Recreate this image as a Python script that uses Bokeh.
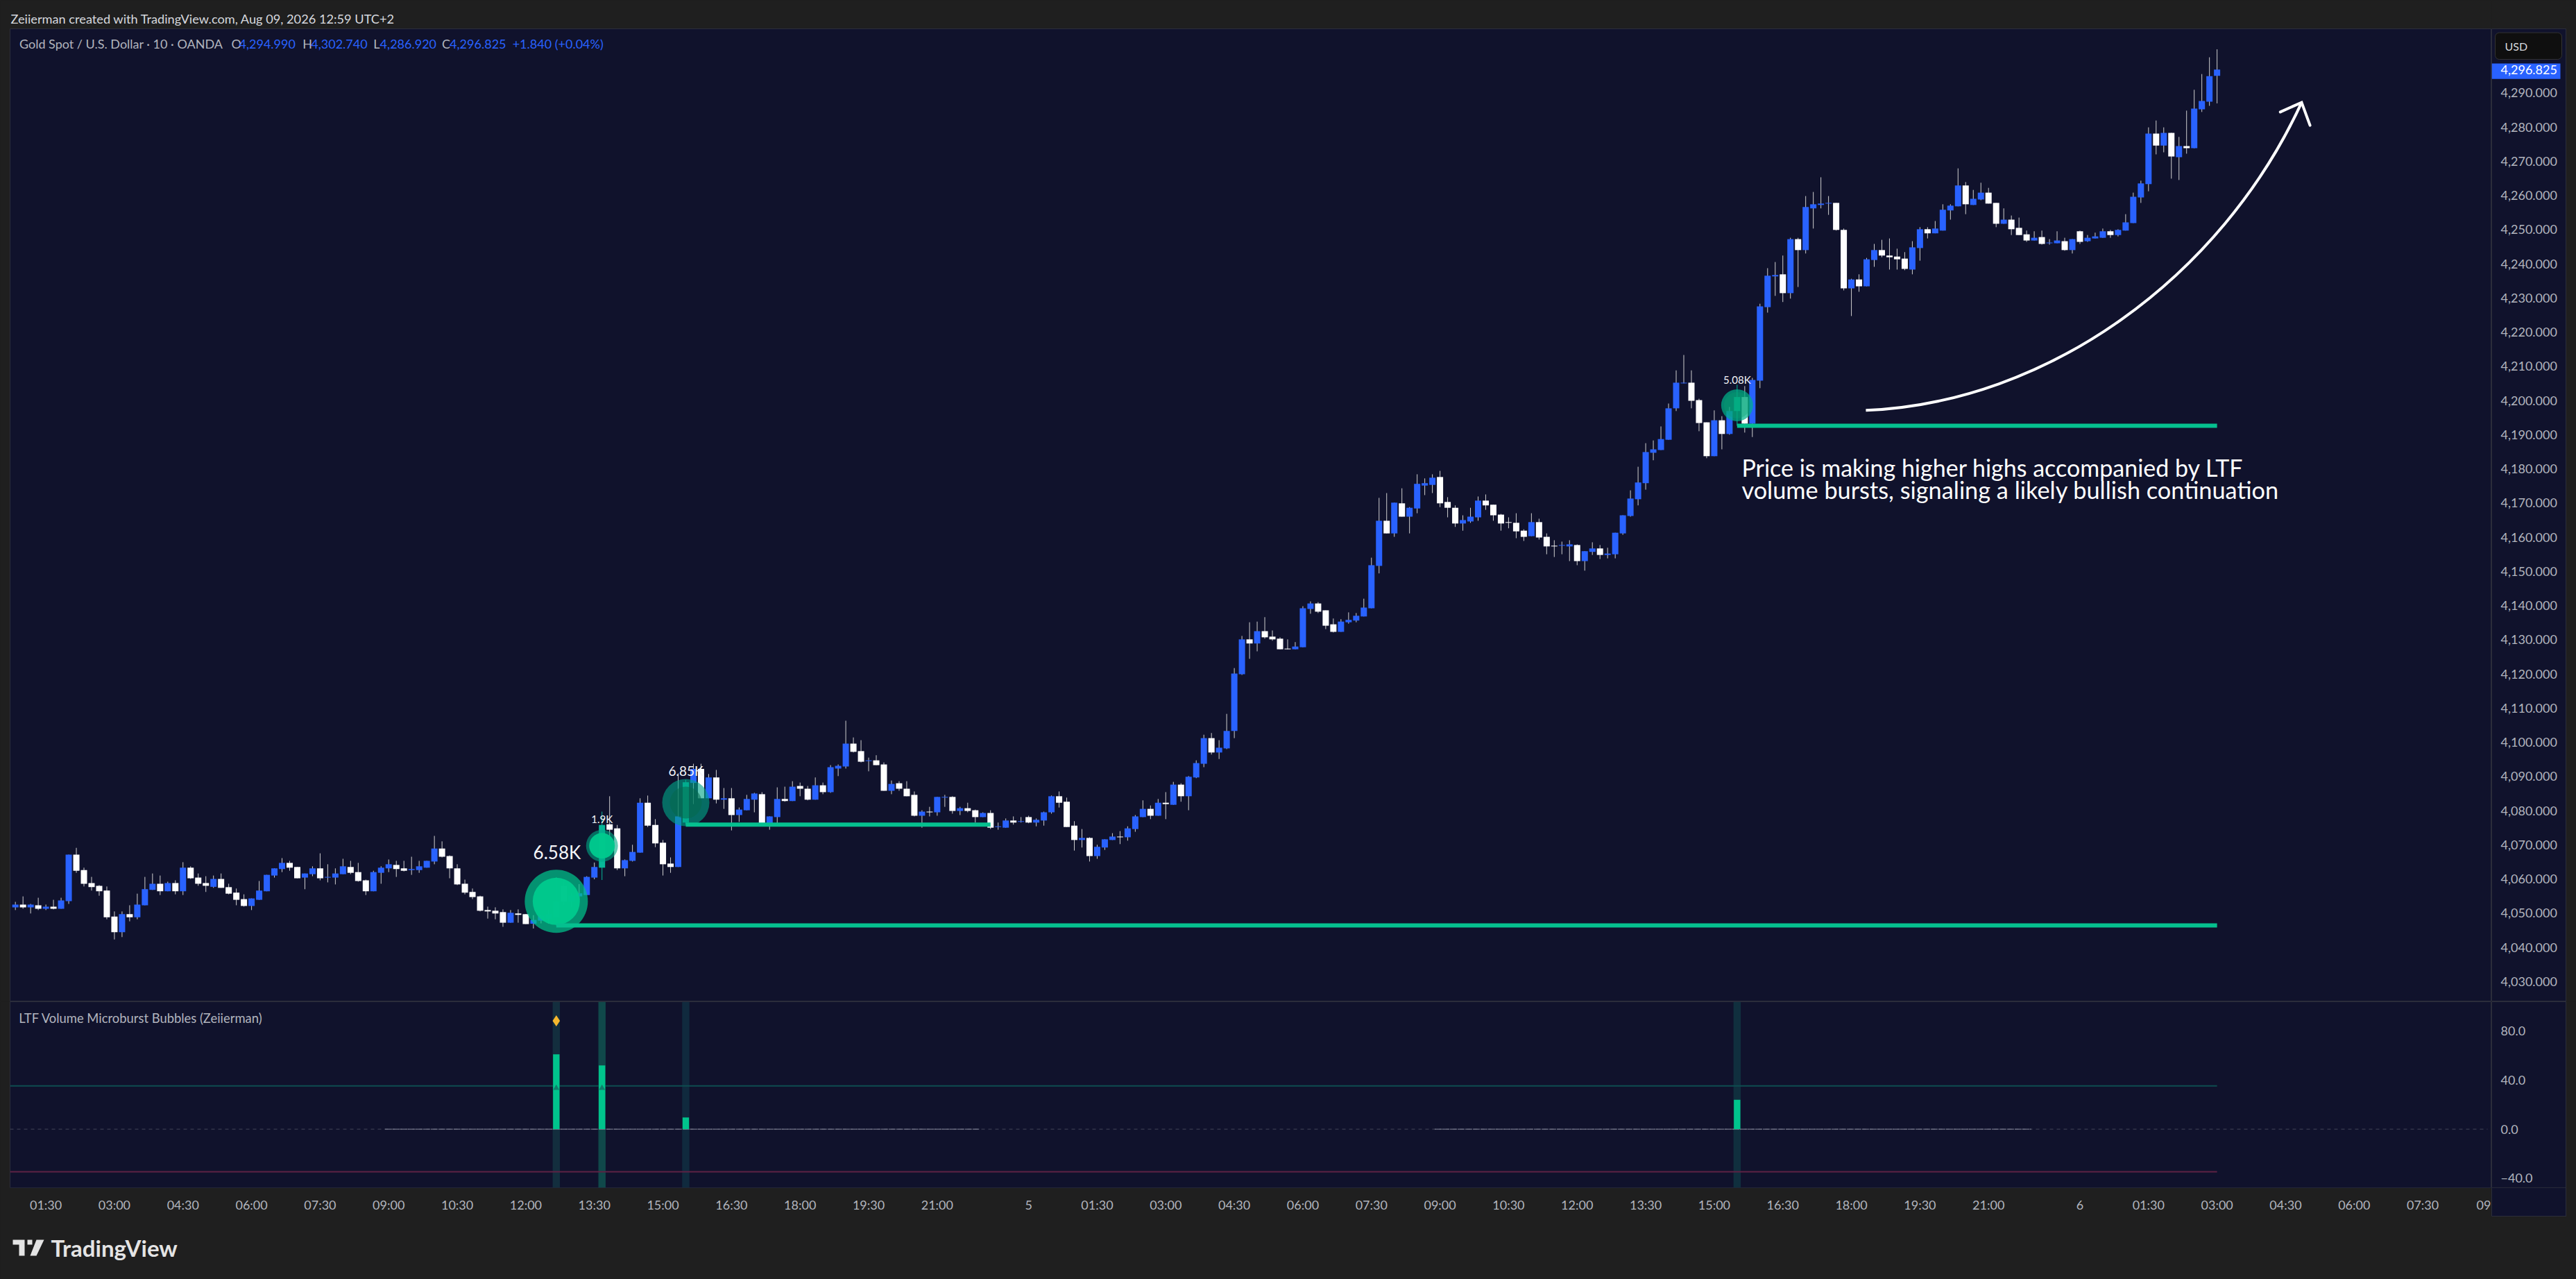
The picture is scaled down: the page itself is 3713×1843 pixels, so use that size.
from bokeh.plotting import figure
from bokeh.layouts import column, row
from bokeh.models import (Range1d, FixedTicker, NumeralTickFormatter, BoxAnnotation, Label,
                          ColumnDataSource, Title)
from bokeh.core.properties import value
from bokeh.embed import file_html
from bokeh.resources import INLINE

opens = [
4051.7,4052.5,4051.7,4052.3,4051.3,4051.9,4051.3,4053.5,4067.1,4062.6,
4058.8,4058.0,4056.6,4049.0,4044.4,4049.7,4048.8,4052.3,4056.8,4058.6,
4056.4,4058.8,4056.4,4063.3,4060.4,4058.8,4057.7,4060.0,4057.6,4056.0,
4054.1,4052.1,4053.9,4056.4,4061.0,4062.9,4064.7,4063.5,4060.4,4061.4,
4063.1,4060.4,4060.4,4061.4,4063.5,4062.0,4059.6,4056.4,4061.8,4063.1,
4064.1,4063.1,4062.6,4062.6,4063.3,4065.1,4068.9,4066.7,4063.1,4058.6,
4056.2,4054.9,4050.9,4050.7,4050.3,4047.2,4049.9,4049.7,4046.9,4047.8,
4048.4,4048.7,4058.0,4053.4,4054.9,4055.3,4060.4,4063.3,4076.0,4074.8,
4063.1,4065.3,4067.7,4082.3,4075.8,4070.6,4064.5,4063.5,4076.5,4088.1,
4092.2,4083.6,4089.7,4083.2,4083.6,4078.7,4080.1,4083.2,4084.8,4076.3,
4078.1,4083.4,4082.8,4087.2,4086.4,4083.2,4087.4,4085.4,4092.3,4092.9,
4099.6,4097.4,4094.5,4094.7,4093.5,4085.8,4088.0,4086.4,4084.6,4078.5,
4079.7,4079.5,4083.8,4084.0,4079.9,4080.7,4080.1,4078.1,4079.3,4075.2,
4075.0,4077.1,4076.7,4078.1,4076.5,4077.1,4079.5,4084.2,4082.6,4075.6,
4071.4,4072.0,4066.7,4069.2,4071.4,4072.4,4072.2,4074.6,4078.1,4080.5,
4078.5,4082.3,4081.7,4087.6,4084.2,4089.7,4093.7,4101.2,4097.0,4098.2,
4103.3,4119.9,4130.1,4128.9,4132.5,4130.9,4130.3,4127.4,4127.2,4127.8,
4139.0,4140.6,4138.6,4134.5,4132.3,4135.1,4135.6,4136.8,4139.2,4151.6,
4164.8,4161.1,4169.9,4166.0,4168.4,4175.1,4175.3,4177.6,4170.3,4168.6,
4164.0,4164.6,4165.8,4170.7,4169.5,4166.6,4164.4,4164.2,4161.9,4160.3,
4164.4,4160.1,4157.5,4157.5,4157.3,4157.7,4153.0,4155.7,4156.7,4154.8,
4155.0,4161.1,4166.2,4171.1,4175.8,4184.7,4185.5,4188.5,4197.7,4205.0,
4205.2,4200.1,4193.6,4183.7,4194.2,4190.2,4196.9,4201.0,4193.2,4205.8,
4227.3,4236.3,4236.9,4231.4,4247.2,4244.0,4256.2,4257.2,4257.6,4257.8,
4249.9,4232.8,4235.4,4233.4,4241.1,4244.0,4242.4,4242.1,4241.5,4238.3,
4244.6,4250.1,4248.9,4249.7,4255.6,4256.8,4262.9,4257.2,4258.8,4260.8,
4257.8,4251.7,4252.9,4250.5,4248.6,4246.8,4247.8,4246.0,4246.0,4246.6,
4244.0,4249.5,4246.6,4247.4,4247.6,4249.5,4248.4,4249.7,4251.9,4259.4,
4263.3,4278.1,4274.6,4278.3,4271.2,4274.4,4273.8,4285.2,4287.4,4294.99]

closes = [
4052.5,4051.7,4052.5,4051.3,4051.9,4051.3,4053.7,4067.1,4062.4,4058.6,
4057.6,4056.4,4048.8,4044.4,4049.7,4048.8,4052.5,4057.0,4058.6,4056.4,
4058.8,4056.4,4063.3,4060.2,4058.6,4058.0,4060.0,4057.4,4055.7,4053.9,
4052.1,4054.3,4056.6,4061.2,4063.1,4064.7,4063.3,4060.2,4061.6,4063.1,
4060.2,4060.6,4061.6,4063.7,4061.8,4059.4,4056.4,4062.0,4063.3,4064.3,
4062.9,4062.4,4062.9,4063.7,4065.3,4068.9,4066.5,4063.1,4058.4,4056.0,
4054.7,4050.7,4050.5,4049.9,4047.2,4050.1,4049.5,4046.8,4048.0,4049.2,
4049.7,4053.4,4053.4,4055.1,4055.8,4060.6,4063.5,4075.8,4074.4,4063.1,
4065.5,4067.9,4082.3,4075.6,4070.4,4064.3,4063.5,4078.3,4088.3,4092.2,
4083.6,4089.7,4083.2,4083.6,4078.7,4080.3,4083.4,4085.0,4076.3,4078.3,
4083.4,4082.8,4087.0,4086.4,4083.2,4087.4,4085.4,4092.7,4093.1,4099.6,
4097.2,4094.3,4094.7,4093.3,4085.8,4087.8,4086.4,4084.2,4078.5,4079.7,
4079.5,4084.0,4084.0,4079.9,4080.7,4079.9,4078.1,4079.3,4075.0,4075.4,
4077.1,4076.5,4076.9,4076.5,4077.3,4079.5,4084.2,4082.3,4075.2,4071.4,
4072.0,4066.7,4069.4,4071.6,4072.4,4072.2,4074.8,4078.3,4080.5,4078.5,
4082.3,4081.9,4087.6,4084.2,4089.9,4093.9,4101.2,4097.0,4098.4,4103.3,
4120.1,4130.1,4128.9,4132.5,4130.7,4130.1,4127.2,4127.2,4128.0,4139.2,
4140.6,4138.2,4134.1,4132.3,4135.3,4135.8,4137.0,4139.4,4151.8,4164.8,
4161.1,4170.1,4166.0,4168.6,4175.6,4175.8,4177.4,4169.9,4168.6,4164.0,
4165.0,4166.0,4170.7,4169.3,4166.4,4164.0,4164.2,4161.7,4160.1,4164.4,
4159.9,4157.3,4157.3,4157.7,4157.9,4153.0,4155.9,4156.7,4154.8,4155.2,
4161.3,4166.4,4171.3,4176.0,4184.9,4185.7,4188.7,4197.7,4205.2,4205.2,
4199.9,4193.4,4183.7,4194.2,4190.2,4196.9,4201.0,4193.2,4206.0,4227.5,
4236.5,4236.7,4231.4,4247.2,4244.0,4256.6,4257.4,4257.6,4257.8,4249.9,
4232.8,4235.4,4233.4,4241.3,4244.0,4242.4,4241.9,4241.3,4238.5,4244.8,
4250.1,4248.9,4250.3,4255.8,4257.0,4262.9,4257.4,4259.0,4260.8,4257.6,
4251.7,4252.9,4250.1,4248.4,4246.8,4247.6,4245.8,4246.2,4246.8,4244.0,
4247.2,4246.4,4247.6,4248.0,4249.5,4248.4,4249.9,4252.1,4259.6,4263.5,
4278.1,4274.6,4278.3,4271.4,4274.4,4273.8,4285.4,4287.6,4294.9,4296.825]

highs = [
4053.3,4054.9,4052.7,4054.5,4052.5,4053.9,4054.5,4067.1,4069.1,4063.3,
4060.6,4058.2,4057.8,4050.5,4050.5,4052.3,4055.7,4060.6,4061.6,4061.0,
4059.2,4059.6,4064.9,4063.7,4061.6,4060.8,4061.0,4061.6,4058.6,4057.2,
4055.5,4054.3,4059.4,4061.2,4063.1,4066.1,4065.3,4063.5,4061.6,4063.7,
4067.5,4064.3,4063.1,4065.9,4065.3,4064.7,4059.8,4062.4,4063.7,4065.7,
4065.3,4065.3,4066.5,4065.3,4065.3,4072.6,4071.0,4066.9,4064.3,4059.8,
4057.2,4055.1,4051.9,4051.7,4051.1,4050.9,4051.1,4049.7,4049.4,4049.4,
4051.1,4060.5,4059.2,4055.8,4058.5,4060.8,4064.8,4079.7,4084.2,4075.8,
4065.7,4070.0,4083.6,4084.4,4077.5,4071.4,4066.3,4090.9,4089.0,4093.7,
4093.7,4090.7,4091.9,4086.6,4086.6,4080.9,4084.6,4085.2,4085.4,4078.3,
4086.8,4087.0,4088.6,4088.2,4087.2,4089.7,4088.2,4093.3,4093.5,4106.3,
4101.4,4100.6,4095.5,4096.2,4094.1,4088.8,4088.6,4088.6,4085.6,4080.1,
4081.1,4084.0,4084.6,4084.2,4081.1,4082.3,4080.3,4079.5,4080.1,4076.5,
4077.7,4078.3,4078.1,4078.5,4077.7,4079.7,4084.4,4085.6,4083.8,4076.9,
4074.6,4072.2,4070.0,4071.6,4073.4,4074.0,4075.4,4078.7,4083.0,4081.5,
4083.4,4085.4,4088.4,4088.0,4090.1,4094.7,4102.2,4102.7,4100.6,4108.3,
4121.7,4131.1,4135.1,4135.3,4136.6,4132.7,4130.7,4130.1,4129.3,4139.8,
4141.2,4141.0,4138.6,4136.2,4136.0,4138.0,4137.8,4142.0,4154.0,4171.5,
4172.9,4170.1,4174.3,4168.8,4178.4,4177.2,4178.4,4179.4,4171.7,4169.3,
4166.4,4168.6,4171.9,4172.5,4169.5,4166.8,4165.8,4167.0,4162.3,4167.0,
4165.4,4161.1,4159.1,4158.7,4159.1,4157.9,4155.9,4158.5,4157.7,4156.9,
4161.3,4166.4,4173.7,4180.6,4187.5,4188.3,4192.4,4199.1,4208.8,4213.3,
4208.8,4200.5,4193.6,4197.1,4195.4,4198.1,4204.6,4204.2,4206.6,4228.3,
4238.7,4240.5,4242.4,4247.6,4247.6,4259.8,4261.0,4265.3,4259.8,4257.8,
4250.3,4235.6,4236.9,4241.7,4245.8,4247.0,4247.4,4244.4,4243.4,4246.6,
4250.7,4250.7,4252.5,4257.4,4257.4,4267.9,4263.9,4261.6,4263.7,4262.2,
4257.8,4256.2,4254.1,4253.5,4249.7,4249.5,4249.7,4247.2,4249.5,4247.6,
4247.2,4249.7,4248.4,4249.1,4250.3,4249.9,4250.1,4254.5,4260.8,4264.3,
4279.9,4281.9,4279.9,4278.3,4277.1,4284.8,4290.9,4295.5,4300.4,4302.74]

lows = [
4050.9,4051.3,4049.9,4050.9,4050.9,4051.1,4051.3,4052.7,4061.8,4057.8,
4056.6,4055.1,4048.2,4042.3,4043.0,4047.6,4048.2,4052.3,4056.8,4055.3,
4056.4,4055.5,4055.3,4060.0,4058.0,4056.2,4057.4,4057.4,4055.5,4052.3,
4051.9,4050.9,4053.9,4056.4,4060.4,4062.0,4062.4,4060.2,4057.0,4060.8,
4059.6,4059.0,4058.4,4061.4,4061.4,4059.2,4055.3,4056.4,4058.6,4062.0,
4060.6,4062.2,4061.2,4061.8,4063.3,4064.3,4066.3,4060.2,4058.2,4055.5,
4054.1,4050.5,4048.4,4048.2,4046.0,4047.2,4047.2,4046.8,4045.5,4047.0,
4046.9,4046.4,4052.4,4051.7,4053.8,4055.3,4059.9,4059.7,4072.4,4062.6,
4060.8,4065.1,4067.7,4075.2,4069.3,4061.0,4061.8,4063.5,4075.9,4081.9,
4083.6,4083.6,4082.1,4080.5,4074.2,4076.7,4080.1,4079.5,4075.4,4074.4,
4076.3,4082.6,4082.8,4084.2,4083.0,4083.2,4084.8,4085.2,4090.1,4092.3,
4097.0,4094.1,4091.5,4093.3,4085.8,4084.8,4085.8,4084.2,4078.3,4075.0,
4078.3,4078.5,4081.1,4079.1,4078.7,4079.5,4076.5,4078.1,4074.6,4074.4,
4075.0,4075.9,4076.5,4076.3,4075.4,4075.6,4079.1,4080.9,4075.2,4068.3,
4069.2,4065.1,4065.9,4068.5,4071.4,4070.2,4071.2,4073.8,4078.1,4077.5,
4078.5,4077.5,4081.7,4082.6,4080.1,4089.5,4092.7,4096.4,4095.1,4098.0,
4101.2,4119.7,4124.4,4126.6,4130.3,4129.7,4127.2,4127.2,4127.2,4127.8,
4137.6,4137.8,4133.1,4132.1,4132.3,4134.7,4135.1,4136.8,4139.2,4149.4,
4161.1,4160.1,4166.0,4161.1,4167.0,4172.3,4172.9,4168.8,4165.8,4163.0,
4161.9,4164.2,4164.8,4168.0,4164.8,4161.9,4162.6,4159.7,4158.9,4160.3,
4159.3,4155.0,4154.2,4155.0,4153.0,4151.8,4150.2,4154.8,4153.6,4153.8,
4153.8,4160.7,4166.0,4169.3,4173.9,4182.5,4185.5,4188.5,4196.9,4205.0,
4197.7,4191.0,4183.1,4183.7,4185.7,4190.0,4192.6,4190.6,4189.3,4203.6,
4225.7,4230.6,4228.8,4229.8,4233.2,4243.0,4250.3,4256.2,4254.3,4249.7,
4232.2,4224.7,4231.8,4233.4,4239.1,4241.9,4238.3,4238.3,4238.1,4236.9,
4240.9,4247.4,4248.9,4249.7,4252.9,4256.8,4254.5,4257.2,4258.6,4257.6,
4250.7,4251.7,4248.4,4248.4,4246.4,4246.8,4245.6,4245.6,4246.0,4243.8,
4243.0,4245.8,4246.4,4247.4,4247.6,4247.6,4248.0,4249.7,4251.9,4257.8,
4261.2,4272.0,4272.6,4264.9,4264.5,4272.2,4273.8,4284.4,4286.2,4286.92]

assert len(opens) == len(closes) == len(highs) == len(lows) == 290

# Bars where the indicator fired
burst_bars = [71, 77, 88, 226]
burst_volume_labels = ["6.58K", "1.9K", "6.85K", "5.08K"]
burst_label_x = [71.1, 77, 88, 226]
burst_label_price = [4067.9, 4077.5, 4091.7, 4206.2]
burst_label_size = ["26px", "15px", "19px", "15px"]
bubble_price = [4053.45, 4069.7, 4082.35, 4198.6]
bubble_outer = [91, 46, 68, 46]
bubble_inner = [68, 37, 46, 38]
burst_hist = [61.1, 52.0, 9.5, 24.0]
burst_band_color = ["#132e3e", "#10484a", "#102a3e", "#102f3e"]

level_start = [71, 88, 226]
level_end = [289, 128, 289]
level_price = [4046.4, 4075.9, 4192.6]

price_ticks = list(range(4030, 4300, 10))
time_ticks = [4,13,22,31,40,49,58,67,76,85,94,103,112,121,133,142,151,160,169,178,187,196,205,214,223,232,241,250,259,271,280,289,298,307,316,324]
time_labels = ["01:30","03:00","04:30","06:00","07:30","09:00","10:30","12:00","13:30","15:00","16:30","18:00","19:30","21:00","5",
               "01:30","03:00","04:30","06:00","07:30","09:00","10:30","12:00","13:30","15:00","16:30","18:00","19:30","21:00","6",
               "01:30","03:00","04:30","06:00","07:30","09"]
ind_ticks = [80, 40, 0, -40]
ind_tick_labels = ["80.0", "40.0", "0.0", "\u221240.0"]

arrow_i = [242.9, 266.7, 289.5, 300.1]
arrow_price = [4197.1, 4199.3, 4235.8, 4287.2]
arrow_head_i = [297.3, 300.1, 301.2]
arrow_head_price = [4284.4, 4287.2, 4280.5]

NAVY = "#10122c"
DARK = "#1f1f1f"
EDGE = "#2b2d3b"
GREY = "#b2b5be"
BLUE = "#2962ff"
FONT = "Lato"

XMIN, XMAX = -0.70, 325.05
PTOP, PBOT = 4308.74, 4024.07
ITOP, IBOT, IOUT = 104.06, -47.83, -71.7
LEFT_W, RIGHT_W, W = 3591, 122, 3713

x_range = Range1d(XMIN, XMAX)
price_range = Range1d(PBOT, PTOP)
p = figure(width=LEFT_W, height=1443, x_range=x_range, y_range=price_range,
           output_backend="svg", toolbar_location=None, x_axis_location=None, y_axis_location=None,
           min_border_left=14, min_border_right=0, min_border_top=41, min_border_bottom=0,
           background_fill_color=NAVY, border_fill_color=DARK, outline_line_color=EDGE)
p.grid.visible = False

idx = list(range(len(opens)))
body_col = []
wick_col = []
for i in idx:
    if i in burst_bars:
        body_col.append("#07b798"); wick_col.append("#07b798")
    else:
        body_col.append(BLUE if closes[i] >= opens[i] else "#ffffff"); wick_col.append("#cfcfcf")
src = ColumnDataSource(dict(x=idx, o=opens, c=closes, h=highs, l=lows, body=body_col, wick=wick_col))
p.segment("x", "h", "x", "l", source=src, line_color="wick", line_width=1)
p.vbar("x", 0.82, "o", "c", source=src, fill_color="body", line_color=None)

# bubbles
p.scatter(burst_bars, bubble_price, size=bubble_outer, marker="circle",
          fill_color=["#00c48c", "#00a985", "#00a587", "#00b189"], fill_alpha=[0.72, 0.6, 0.62, 0.72], line_color=None)
p.scatter(burst_bars, bubble_price, size=bubble_inner, marker="circle",
          fill_color=["#00c98d", "#00c98d", "#056a4c", "#08a070"], fill_alpha=[0.97, 0.97, 0.55, 0.35], line_color=None)

# levels
p.segment(level_start, level_price, level_end, level_price, line_color="#05c08f", line_width=6)

p.text(burst_label_x, burst_label_price, text=burst_volume_labels, text_color="#f4f5f8",
       text_font=value(FONT), text_font_size=burst_label_size, text_align="center", text_baseline="middle")

# arrow
p.bezier(x0=[arrow_i[0]], y0=[arrow_price[0]], x1=[arrow_i[3]], y1=[arrow_price[3]],
         cx0=[arrow_i[1]], cy0=[arrow_price[1]], cx1=[arrow_i[2]], cy1=[arrow_price[2]],
         line_color="#ffffff", line_width=4)
p.line(arrow_head_i, arrow_head_price, line_color="#ffffff", line_width=4, line_cap="round", line_join="miter")

p.text([226.6], [4180.4], text=["Price is making higher highs accompanied by LTF"], text_color="#ffffff",
       text_font=value(FONT), text_font_size="34px", text_align="left", text_baseline="middle")
p.text([226.6], [4173.9], text=["volume bursts, signaling a likely bullish continuation"], text_color="#ffffff",
       text_font=value(FONT), text_font_size="34.3px", text_align="left", text_baseline="middle")


def lab(fig, x, y, text, color=GREY, size="18px"):
    fig.add_layout(Label(x=x, y=y, text=text, text_color=color, text_font=FONT, text_font_size=size,
                         text_align="left", text_baseline="middle"))


HEAD_Y = 4304.3
p.add_layout(Title(text="Zeiierman created with TradingView.com, Aug 09, 2026 12:59 UTC+2", text_color="#d6d8de",
                   text_font=FONT, text_font_size="18.2px", text_font_style="normal", align="left",
                   standoff=8, offset=1), "above")
lab(p, 0.52, HEAD_Y, "Gold Spot / U.S. Dollar \u00b7 10 \u00b7 OANDA")
lab(p, 28.35, HEAD_Y, "O")
lab(p, 29.35, HEAD_Y, "4,294.990", BLUE)
lab(p, 37.7, HEAD_Y, "H")
lab(p, 38.8, HEAD_Y, "4,302.740", BLUE)
lab(p, 47.0, HEAD_Y, "L")
lab(p, 47.85, HEAD_Y, "4,286.920", BLUE)
lab(p, 56.0, HEAD_Y, "C")
lab(p, 57.0, HEAD_Y, "4,296.825", BLUE)
lab(p, 65.25, HEAD_Y, "+1.840 (+0.04%)", BLUE)


def right_axis(ax_):
    ax_.major_tick_line_color = None
    ax_.minor_tick_line_color = None
    ax_.axis_line_color = EDGE
    ax_.major_tick_out = 0
    ax_.major_tick_in = 0
    ax_.major_label_standoff = -94
    ax_.major_label_text_color = GREY
    ax_.major_label_text_font = FONT
    ax_.major_label_text_font_size = "18px"


# price scale column, in its own plot so the last-price tag can sit inside it
r1 = figure(width=RIGHT_W, height=1443, x_range=Range1d(0, 107), y_range=price_range,
            output_backend="svg", toolbar_location=None, x_axis_location=None, y_axis_location="right",
            min_border_left=0, min_border_right=15, min_border_top=41, min_border_bottom=0,
            background_fill_color=NAVY, border_fill_color=DARK, outline_line_color=EDGE)
r1.grid.visible = False
ax = r1.yaxis[0]
ax.ticker = FixedTicker(ticks=price_ticks)
ax.formatter = NumeralTickFormatter(format="0,0.000")
right_axis(ax)
r1.quad(left=[0], right=[99], top=[4298.6], bottom=[4294.06], fill_color=BLUE, line_color=None)
r1.text([13], [closes[-1]], text=["4,296.825"], text_color="#ffffff", text_font=value(FONT), text_font_size="18px",
        text_align="left", text_baseline="middle")
r1.quad(left=[5], right=[101], top=[4307.6], bottom=[4299.8], fill_color="#0f0f0f", line_color="#333333",
        border_radius=6)
r1.text([19], [4303.7], text=["USD"], text_color="#d6d8de", text_font=value(FONT), text_font_size="16px",
        text_align="left", text_baseline="middle")

# indicator pane
q = figure(width=LEFT_W, height=310, x_range=x_range, y_range=Range1d(IBOT, ITOP),
           output_backend="svg", toolbar_location=None, y_axis_location=None,
           min_border_left=14, min_border_right=0, min_border_top=0, min_border_bottom=42,
           background_fill_color=NAVY, border_fill_color=DARK, outline_line_color=EDGE)
q.grid.visible = False
q.add_layout(BoxAnnotation(left=XMIN, right=XMAX, top=IBOT, bottom=IOUT, fill_color=NAVY, fill_alpha=1,
                           line_color=EDGE, level="underlay"))
xax = q.xaxis[0]
xax.ticker = FixedTicker(ticks=time_ticks)
xax.major_label_overrides = dict(zip(time_ticks, time_labels))
xax.major_tick_line_color = None
xax.minor_tick_line_color = None
xax.axis_line_color = None
xax.major_tick_out = 0
xax.major_label_standoff = 13
xax.major_label_text_color = GREY
xax.major_label_text_font = FONT
xax.major_label_text_font_size = "18px"

q.vbar(burst_bars, 0.95, [IBOT] * 4, [ITOP] * 4, fill_color=burst_band_color, line_color=None)
q.segment([XMIN], [35.4], [289], [35.4], line_color="#0d4d50", line_width=2)
q.segment([XMIN], [-34.8], [289], [-34.8], line_color="#5e2244", line_width=2)
q.segment([XMIN], [0], [324.5], [0], line_color="#43465a", line_width=1, line_dash="5 5")
q.segment([48.5, 186.3], [0, 0], [126.5, 264.6], [0, 0], line_color="#8b8ea0", line_width=1, line_dash="10 1")
q.vbar(burst_bars, 0.85, [0] * 4, burst_hist, fill_color="#00c48c", line_color=None)
q.scatter([71, 77], [33.5, 33.5], marker="triangle", size=9, fill_color="#0f7f6c", line_color=None)
q.scatter([71], [88.5], marker="diamond", size=16, fill_color="#f5b82e", line_color=None)
lab(q, 0.45, 90.6, "LTF Volume Microburst Bubbles (Zeiierman)", GREY, "18.4px")

r2 = figure(width=RIGHT_W, height=310, x_range=Range1d(0, 107), y_range=Range1d(IOUT, ITOP),
            output_backend="svg", toolbar_location=None, x_axis_location=None, y_axis_location="right",
            min_border_left=0, min_border_right=15, min_border_top=0, min_border_bottom=0,
            background_fill_color=NAVY, border_fill_color=DARK, outline_line_color=EDGE)
r2.grid.visible = False
yax = r2.yaxis[0]
yax.ticker = FixedTicker(ticks=ind_ticks)
yax.major_label_overrides = dict(zip(ind_ticks, ind_tick_labels))
right_axis(yax)
r2.segment([0], [IBOT], [107], [IBOT], line_color=EDGE, line_width=1)

# footer with the wordmark
logo_x = [[18, 35, 35, 27, 27, 18], [39, 46, 46, 39], [52, 63, 52, 43]]
logo_y = [[57, 57, 34, 34, 50, 50], [57, 57, 50, 50], [57, 57, 34, 34]]
f = figure(width=W, height=90, x_range=Range1d(0, W), y_range=Range1d(0, 90),
           output_backend="svg", toolbar_location=None, x_axis_location=None, y_axis_location=None,
           min_border_left=0, min_border_right=0, min_border_top=0, min_border_bottom=0,
           background_fill_color=DARK, border_fill_color=DARK, outline_line_color=None)
f.grid.visible = False
f.patches(logo_x, logo_y, fill_color="#e4e4e4", line_color=None)
f.text([73], [46], text=["TradingView"], text_color="#e4e4e4", text_font=value(FONT), text_font_style="bold",
       text_font_size="33px", text_align="left", text_baseline="middle")

top = row(column(p, q, spacing=0), column(r1, r2, spacing=0), spacing=0)
page = column(top, f, spacing=0)
html = file_html(page, INLINE)
html = html.replace("</head>", "<style>html,body{background:#1f1f1f;margin:0;overflow:hidden}</style></head>", 1)
open("out.html", "w", encoding="utf-8").write(html)
